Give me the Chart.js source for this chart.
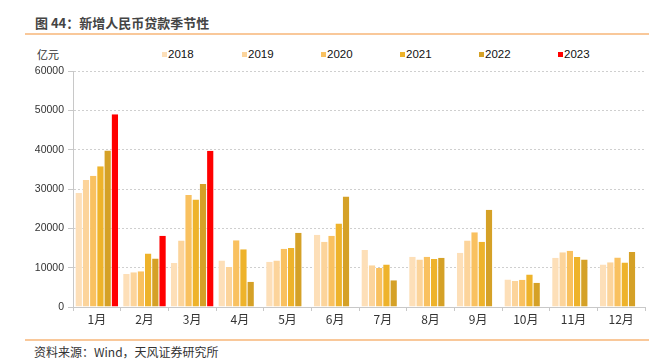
<!DOCTYPE html>
<html>
<head>
<meta charset="utf-8">
<script src="https://cdn.jsdelivr.net/npm/chart.js@4.4.1/dist/chart.umd.min.js"></script>
<style>
  html, body { margin:0; padding:0; background:#fff; }
  body { width:668px; height:364px; position:relative; overflow:hidden; font-family:"Noto Sans CJK SC","Liberation Sans",Arial,sans-serif; }
  .title { position:absolute; left:35px; top:13px; font-size:13px; font-weight:bold; color:#444; }
  .rule { position:absolute; left:25px; width:624px; height:2px; background:#f9c89a; }
  .unit { position:absolute; left:37px; top:46px; font-size:11px; color:#333; }
  .legend { position:absolute; top:46px; left:0; font-family:"Liberation Sans",Arial,sans-serif; font-size:11.5px; color:#111; }
  .legend span { position:absolute; white-space:nowrap; line-height:16px; }
  .legend i { display:inline-block; width:5px; height:5px; margin-right:1px; vertical-align:1px; }
  .source { position:absolute; left:34px; top:343px; font-size:12px; color:#333; }
  #wrap { position:absolute; left:0; top:0; width:668px; height:364px; }
</style>
</head>
<body>
<div class="title">图 44：新增人民币贷款季节性</div>
<div class="rule" style="top:33px"></div>
<div class="unit">亿元</div>
<div class="legend" id="legend"></div>
<div class="rule" style="top:339px"></div>
<div class="source">资料来源：Wind，天风证券研究所</div>
<div id="wrap"><canvas id="c" width="668" height="364"></canvas></div>
<script>
'use strict';
const months = ['1月','2月','3月','4月','5月','6月','7月','8月','9月','10月','11月','12月'];
const years = ['2018','2019','2020','2021','2022','2023'];
const colors = ['#fddfb8','#fcd49b','#f9c160','#eeb32b','#d5a127','#ff0000'];
const y2018 = [29000, 8390, 11200, 11800, 11500, 18400, 14500, 12800, 13800, 6970, 12500, 10800];
const y2019 = [32300, 8860, 16900, 10200, 11800, 16600, 10600, 12100, 16900, 6610, 13900, 11400];
const y2020 = [33400, 9060, 28500, 17000, 14800, 18100, 9930, 12800, 19000, 6900, 14300, 12600];
const y2021 = [35800, 13600, 27300, 14700, 15000, 21200, 10800, 12200, 16600, 8260, 12700, 11300];
const y2022 = [39800, 12300, 31300, 6450, 18900, 28100, 6790, 12500, 24700, 6150, 12100, 14000];
const y2023 = [49000, 18100, 39700, null, null, null, null, null, null, null, null, null];
const series = [y2018, y2019, y2020, y2021, y2022, y2023];
const yTicks = [0, 10000, 20000, 30000, 40000, 50000, 60000];

const legendLeft = [162, 242, 321, 400, 479, 558];
document.getElementById('legend').innerHTML = years.map((y,i) =>
  `<span style="left:${legendLeft[i]}px"><i style="background:${colors[i]}"></i>${y}</span>`).join('');

new Chart(document.getElementById('c'), {
  type: 'bar',
  data: {
    labels: months,
    datasets: years.map((y,i) => ({
      label: y, data: series[i], backgroundColor: colors[i],
      borderColor: '#ffffff', borderWidth: {left:0.5, right:0.5, top:0, bottom:0},
      categoryPercentage: 0.91, barPercentage: 1
    }))
  },
  options: {
    responsive: false, animation: false,
    layout: { padding: { top: 71, right: 23, left: 0, bottom: 0 } },
    plugins: { legend: { display: false }, tooltip: { enabled: false } },
    scales: {
      x: {
        grid: { display: true, drawOnChartArea: false, drawTicks: true, tickLength: 4, color: '#c8c8c8', offset: true },
        border: { color: '#c8c8c8' },
        ticks: { color: '#333', font: { size: 12, family: 'Noto Sans CJK SC' }, padding: 1 },
        afterFit: s => { s.height = 57; }
      },
      y: {
        min: 0, max: 60000,
        afterBuildTicks: s => { s.ticks = yTicks.map(v => ({ value: v })); },
        grid: { color: '#cfcfcf', tickLength: 5, tickColor: '#c8c8c8', tickBorderDash: [] },
        border: { color: '#c8c8c8', dash: [2,2] },
        ticks: { color: '#333', font: { size: 10.5, family: 'Liberation Sans' }, padding: 4,
                 callback: v => String(v) },
        afterFit: s => { s.width = 73; }
      }
    }
  }
});
</script>
</body>
</html>
